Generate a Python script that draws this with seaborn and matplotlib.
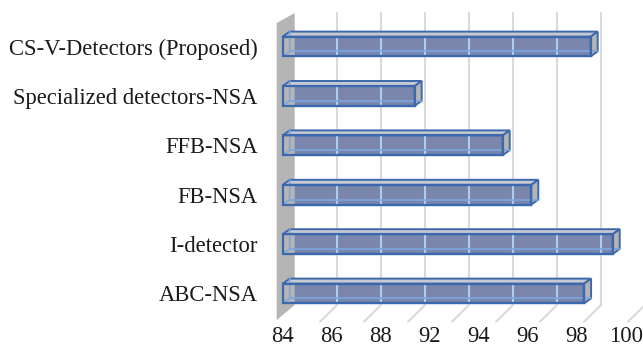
import numpy as np
import pandas as pd
import matplotlib
matplotlib.use("Agg")
import matplotlib.pyplot as plt
from matplotlib.patches import Polygon
from matplotlib.lines import Line2D
from matplotlib.transforms import IdentityTransform
import seaborn as sns

# ---- data -------------------------------------------------------------
methods = [
    "CS-V-Detectors (Proposed)",
    "Specialized detectors-NSA",
    "FFB-NSA",
    "FB-NSA",
    "I-detector",
    "ABC-NSA",
]
accuracy = [98.0, 90.0, 94.0, 95.3, 99.0, 97.7]
tick_labels = ["84", "86", "88", "92", "94", "96", "98", "100"]

XMIN, XMAX = 84, 100
GRID_STEP = 2

# ---- style --------------------------------------------------------------
FRONT = "#7a86ac"
EDGE = "#3c68ae"
INNER = "#7aa6de"
GRID_IN_BAR = "#a9cdf2"
TOP = "#c8c9d1"
SIDE = "#b4b4b6"
WALL = "#b5b5b5"
GRID = "#d9d9d9"

sns.set_style("white")
plt.rcParams["font.family"] = ["Liberation Serif", "DejaVu Serif"]

W, H, DPI = 643, 349, 100
fig = plt.figure(figsize=(W / DPI, H / DPI), dpi=DPI)

# axes spans the back plane vertically and the bar plane horizontally
ax_left_px, ax_right_px = 282.7, 634.7
ax_top_px, ax_bot_px = 13.0, 305.0
ax = fig.add_axes([ax_left_px / W, 1 - ax_bot_px / H,
                   (ax_right_px - ax_left_px) / W, (ax_bot_px - ax_top_px) / H])

df = pd.DataFrame({"method": methods, "accuracy": accuracy})
sns.barplot(data=df, x="accuracy", y="method", orient="h", width=0.4,
            color=FRONT, edgecolor=EDGE, linewidth=1.6, saturation=1,
            ax=ax, zorder=3)

ax.set_xlim(XMIN, XMAX)
ax.set_ylim(5.233, -0.678)

# bars start at the axis floor value
for p, v in zip(ax.patches, accuracy):
    p.set_x(XMIN)
    p.set_width(v - XMIN)
    p.set_clip_on(False)

for s in ax.spines.values():
    s.set_visible(False)
ax.grid(False)
ax.set_xlabel("")
ax.set_ylabel("")

ax.set_xticks(np.linspace(XMIN, 99.6, len(tick_labels)))
ax.set_xticklabels(tick_labels, fontsize=16.3, color="#1a1a1a")
ax.tick_params(axis="x", length=0, pad=15)
ax.tick_params(axis="y", length=0, pad=18, labelsize=16.3, labelcolor="#1a1a1a")

# ---- pseudo-3D decorations (drawn in display pixels) ------------------
ID = IdentityTransform()
BACK_DX = 10.3          # back plane shift to the right
FLOOR_DX, FLOOR_DY = -17.0, -16.7   # floor runs toward the viewer
BAR_DX, BAR_DY = 7.0, 5.0           # bar depth

def disp(x, y):
    return ax.transData.transform((x, y))

y_top_disp = ax.transAxes.transform((0, 1))[1]
y_bot_disp = ax.transAxes.transform((0, 0))[1]

# side wall
x84 = disp(XMIN, 0)[0]
wall = Polygon([(x84 - 6, y_top_disp - 10), (x84 + 12, y_top_disp),
                (x84 + 12, y_bot_disp), (x84 - 6, y_bot_disp - 15)],
               closed=True, transform=ID, facecolor=WALL, edgecolor="none",
               zorder=1)
fig.add_artist(wall)

# back grid lines and floor ticks
grid_vals = np.arange(XMIN + GRID_STEP, XMAX + GRID_STEP / 2, GRID_STEP)
for g in grid_vals:
    xg = disp(g, 0)[0] + BACK_DX
    fig.add_artist(Line2D([xg, xg], [y_bot_disp, y_top_disp], transform=ID,
                          color=GRID, lw=1.5, zorder=1))
    fig.add_artist(Line2D([xg, xg + FLOOR_DX], [y_bot_disp, y_bot_disp + FLOOR_DY],
                          transform=ID, color=GRID, lw=1.5, zorder=1))

# bar tops, ends, see-through edges
half = 0.2
for i, v in enumerate(accuracy):
    x0, yt = disp(XMIN, i - half)
    x1, yb = disp(v, i + half)
    top = Polygon([(x0, yt), (x1, yt), (x1 + BAR_DX, yt + BAR_DY), (x0 + BAR_DX, yt + BAR_DY)],
                  closed=True, transform=ID, facecolor=TOP, edgecolor=EDGE,
                  lw=1.4, zorder=4)
    side = Polygon([(x1, yt), (x1, yb), (x1 + BAR_DX, yb + BAR_DY), (x1 + BAR_DX, yt + BAR_DY)],
                   closed=True, transform=ID, facecolor=SIDE, edgecolor=EDGE,
                   lw=1.4, zorder=4)
    fig.add_artist(top)
    fig.add_artist(side)
    # grid lines seen through the translucent bar
    for g in grid_vals:
        xg = disp(g, 0)[0] + BACK_DX
        if xg < x1 - 2:
            fig.add_artist(Line2D([xg, xg], [yb + 1, yt - 1], transform=ID,
                                  color=GRID_IN_BAR, lw=1.4, zorder=4))
    # hidden back edges
    bx0, byb, byt = x0 + BAR_DX, yb + BAR_DY, yt + BAR_DY
    fig.add_artist(Line2D([x0, bx0, bx0], [yb, byb, byt], transform=ID,
                          color=INNER, lw=1.2, zorder=4))
    fig.add_artist(Line2D([bx0, x1 + BAR_DX], [byb, byb], transform=ID,
                          color=INNER, lw=1.2, zorder=4))
    # redraw the front outline on top
    fig.add_artist(Polygon([(x0, yb), (x1, yb), (x1, yt), (x0, yt)], closed=True,
                           transform=ID, facecolor="none", edgecolor=EDGE,
                           lw=1.6, zorder=5))

fig.savefig("out.png", dpi=DPI)
